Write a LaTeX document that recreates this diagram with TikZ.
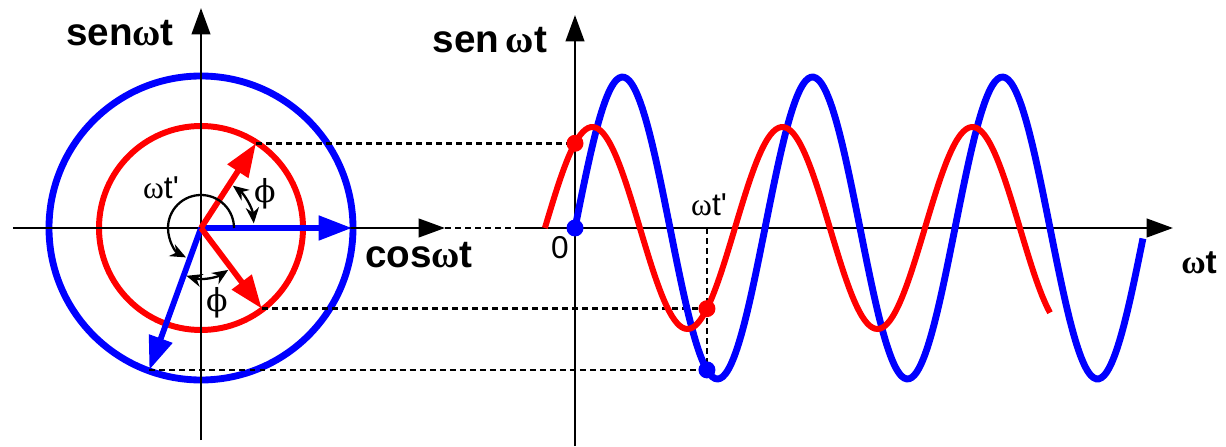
\documentclass[tikz,border=0pt]{standalone}
\usepackage{fontspec}
\setmainfont{Liberation Sans}
\newfontfamily\grk{Liberation Serif}
\newfontfamily\phifont{DejaVu Serif}
\usetikzlibrary{arrows.meta}
\newcommand{\om}{{\grk ω}}

\begin{document}
\begin{tikzpicture}[x=0.02cm,y=0.02cm,
  axis/.style={line width=1.6pt,-{Triangle[length=15pt,width=10.5pt]}},
  vec/.style={line width=3.3pt,-{Triangle[length=19pt,width=13.5pt]}},
  anglearc/.style={line width=1.3pt,{Stealth[length=9pt,width=7.5pt]}-{Stealth[length=9pt,width=7.5pt]}},
  guide/.style={line width=1.5pt,dash pattern=on 3.4pt off 2.3pt},
  biglabel/.style={font=\fontsize{22}{26}\selectfont\bfseries},
  smalllabel/.style={font=\fontsize{18}{22}\selectfont}]
  \useasboundingbox (-201,-218) rectangle (1025,228);
  \coordinate (O) at (0,0);
  \coordinate (O2) at (374,0);
  \coordinate (xl) at (-188,0);
  \coordinate (xr) at (244,0);
  \coordinate (yb) at (0,-212);
  \coordinate (yt) at (0,220);
  \coordinate (x2l) at (317,0);
  \coordinate (x2r) at (972,0);
  \coordinate (y2b) at (374,-218);
  \coordinate (y2t) at (374,213);
  \coordinate (b1) at (0:151);
  \coordinate (b2) at (250:151);
  \coordinate (r1) at (57:101);
  \coordinate (r2) at (307:101);
  \coordinate (wt) at ({374+250/360*190},0);
  \coordinate (rdot1) at (374,{101*sin(57)});
  \coordinate (rdot2) at ({374+250/360*190},{101*sin(307)});
  \coordinate (bdot2) at ({374+250/360*190},{151*sin(250)});
  \draw[blue,line width=3.9pt] (O) circle[radius=152];
  \draw[red,line width=3.4pt] (O) circle[radius=102];
  \draw[axis] (xl) -- (xr);
  \draw[axis] (yb) -- (yt);
  \draw[axis] (x2l) -- (x2r);
  \draw[axis] (y2b) -- (y2t);
  \draw[guide] (xr) -- (x2l);
  \draw[guide] (r1) -- (rdot1);
  \draw[guide] (r2) -- (rdot2);
  \draw[guide] (b2) -- (bdot2);
  \draw[guide] (wt) -- (bdot2);
  \draw[vec,blue] (O) -- (b1);
  \draw[vec,blue] (O) -- (b2);
  \draw[vec,red] (O) -- (r1);
  \draw[vec,red] (O) -- (r2);
  \draw[anglearc] (5:53) arc[start angle=5,end angle=53,radius=53];
  \draw[anglearc] (-107:50) arc[start angle=-107,end angle=-57,radius=50];
  \draw[line width=1.3pt,-{Stealth[length=9pt,width=7.5pt]}] (0:33) arc[start angle=0,end angle=243,radius=33];
  \draw[blue,line width=3.9pt] plot[domain=0:1076,samples=220,smooth] ({374+0.52778*\x},{151*sin(\x)});
  \draw[red,line width=3.4pt] plot[domain=0:957,samples=200,smooth] ({343.9+0.52778*\x},{101*sin(\x)});
  \fill[blue] (O2) circle[radius=8.5];
  \fill[blue] (bdot2) circle[radius=8.5];
  \fill[red] (rdot1) circle[radius=8.5];
  \fill[red] (rdot2) circle[radius=8.5];
  \node[biglabel] (senl) at (-81,195) {sen\om t};
  \node[biglabel] (senr) at (289,188) {sen\,\om t};
  \node[biglabel] (cosl) at (218,-27) {cos\om t};
  \node[smalllabel] (wtl) at (-40,40) {\om t\textquotesingle};
  \node[smalllabel] (phiu) at (64,34) {\phifont ϕ};
  \node[smalllabel] (phid) at (16,-75) {\phifont ϕ};
  \node[smalllabel] (zero) at (359,-20) {0};
  \node[smalllabel] (wtr) at (508,23) {\om t\textquotesingle};
  \node[font=\fontsize{19}{22}\selectfont\bfseries] (wtx) at (998,-35) {\om t};
\end{tikzpicture}
\end{document}
